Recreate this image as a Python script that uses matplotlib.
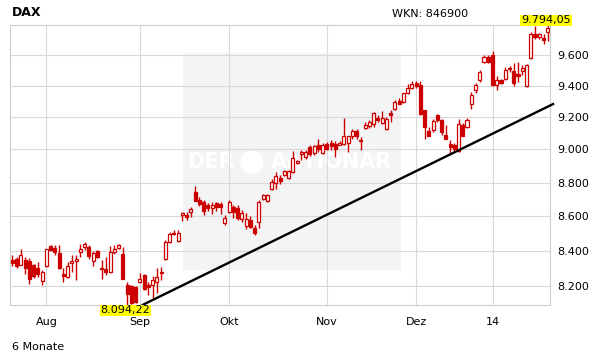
import matplotlib
matplotlib.use('Agg')
import matplotlib.pyplot as plt
from matplotlib.patches import Rectangle, Ellipse
from matplotlib.ticker import FixedLocator, NullLocator

# DAX daily candles, 22.07.2013 - 22.01.2014 (trading days only)
opens = [8346, 8356, 8322, 8350, 8340, 8322, 8303, 8230, 8314, 8426,
         8416, 8385, 8270, 8252, 8331, 8340, 8393, 8422, 8422, 8342,
         8399, 8303, 8295, 8281, 8393, 8419, 8380, 8206, 8200, 8195,
         8224, 8262, 8206, 8206, 8224, 8281, 8351, 8451, 8504, 8455,
         8606, 8606, 8625, 8741, 8698, 8684, 8665, 8650, 8677, 8670,
         8560, 8627, 8652, 8646, 8583, 8543, 8577, 8533, 8566, 8704,
         8690, 8764, 8795, 8825, 8843, 8830, 8862, 8917, 8971, 8952,
         9016, 8977, 9030, 8981, 9034, 9040, 9034, 9030, 9036, 9040,
         9083, 9114, 9060, 9134, 9143, 9155, 9197, 9164, 9128, 9226,
         9250, 9302, 9296, 9355, 9387, 9416, 9402, 9246, 9113, 9118,
         9212, 9180, 9091, 9034, 9026, 8990, 9149, 9140, 9280, 9370,
         9434, 9553, 9585, 9596, 9405, 9434, 9445, 9505, 9493, 9477,
         9493, 9395, 9580, 9738, 9716, 9711, 9749]
highs = [8377, 8367, 8413, 8367, 8361, 8325, 8336, 8290, 8410, 8436,
         8436, 8436, 8300, 8336, 8377, 8377, 8442, 8451, 8432, 8399,
         8403, 8346, 8367, 8426, 8432, 8442, 8422, 8224, 8205, 8200,
         8272, 8267, 8222, 8256, 8300, 8306, 8461, 8506, 8518, 8518,
         8625, 8625, 8655, 8780, 8714, 8698, 8680, 8686, 8684, 8686,
         8606, 8694, 8665, 8665, 8635, 8618, 8600, 8551, 8694, 8733,
         8734, 8819, 8862, 8845, 8873, 8878, 8991, 8935, 8995, 8995,
         9026, 9030, 9067, 9040, 9045, 9056, 9050, 9050, 9194, 9085,
         9128, 9128, 9077, 9170, 9180, 9232, 9212, 9239, 9200, 9243,
         9306, 9320, 9355, 9408, 9429, 9429, 9427, 9246, 9140, 9186,
         9222, 9191, 9149, 9056, 9040, 9191, 9164, 9194, 9360, 9419,
         9498, 9596, 9596, 9622, 9462, 9440, 9519, 9525, 9546, 9552,
         9530, 9540, 9749, 9790, 9745, 9738, 9794.05]
lows = [8313, 8300, 8318, 8266, 8215, 8248, 8252, 8206, 8310, 8398,
        8375, 8295, 8224, 8246, 8281, 8234, 8367, 8403, 8356, 8313,
        8361, 8238, 8262, 8275, 8380, 8413, 8238, 8094.22, 8100, 8105,
        8218, 8178, 8150, 8133, 8161, 8234, 8346, 8445, 8489, 8451,
        8572, 8580, 8593, 8690, 8660, 8606, 8630, 8615, 8631, 8615,
        8547, 8622, 8587, 8577, 8566, 8528, 8530, 8489, 8533, 8694,
        8684, 8753, 8763, 8793, 8837, 8824, 8858, 8912, 8935, 8942,
        8960, 8965, 8985, 8971, 8995, 8995, 8954, 9025, 9026, 8985,
        9067, 9067, 8995, 9128, 9130, 9139, 9170, 9160, 9118, 9170,
        9243, 9280, 9290, 9344, 9376, 9385, 9212, 9067, 9080, 9110,
        9170, 9087, 9062, 8971, 8985, 8985, 9080, 9130, 9254, 9350,
        9423, 9543, 9545, 9398, 9370, 9410, 9434, 9490, 9396, 9423,
        9470, 9392, 9575, 9700, 9700, 9667, 9688]
closes = [8329, 8313, 8379, 8300, 8243, 8258, 8266, 8277, 8408, 8403,
          8393, 8300, 8258, 8314, 8340, 8356, 8413, 8438, 8369, 8388,
          8367, 8295, 8281, 8393, 8413, 8432, 8243, 8159, 8105, 8110,
          8243, 8183, 8195, 8234, 8252, 8273, 8451, 8495, 8495, 8504,
          8618, 8596, 8640, 8690, 8675, 8631, 8650, 8665, 8652, 8652,
          8592, 8684, 8625, 8592, 8621, 8583, 8537, 8504, 8684, 8724,
          8724, 8805, 8839, 8810, 8867, 8867, 8950, 8930, 8985, 8985,
          8971, 9020, 9004, 9030, 9004, 9020, 9004, 9040, 9080, 9081,
          9114, 9083, 9050, 9149, 9170, 9226, 9185, 9197, 9191, 9212,
          9296, 9283, 9350, 9387, 9408, 9395, 9219, 9140, 9086, 9174,
          9182, 9106, 9067, 9014, 9006, 9160, 9086, 9180, 9338, 9406,
          9487, 9585, 9553, 9402, 9434, 9417, 9502, 9515, 9417, 9461,
          9514, 9530, 9738, 9716, 9733, 9698, 9775]

month_ticks = [8, 30, 51, 74, 95, 113]   # first trading day of each month
month_labels = ['Aug', 'Sep', 'Okt', 'Nov', 'Dez', '14']
price_ticks = [8200, 8400, 8600, 8800, 9000, 9200, 9400, 9600]

# support line drawn on the chart (trading-day index, price)
trend_x = [30.45, 127.5]
trend_y = [8094.22, 9286]

RED = '#cc0000'
GRID = '#d9d9d9'

fig = plt.figure(figsize=(6.11, 3.64), dpi=100)
ax = fig.add_axes([10.3 / 611, 1 - 305.3 / 364, 540 / 611, 280 / 364])
ax.set_yscale('log')

idx = list(range(len(opens)))
ax.vlines(idx, lows, highs, color=RED, lw=1.0, zorder=3)
for i, o, c in zip(idx, opens, closes):
    lo, hi = min(o, c), max(o, c)
    if hi - lo < 3:
        hi = lo + 3
    face = 'white' if c > o else RED
    ax.bar(i, hi - lo, bottom=lo, width=0.72, color=face, edgecolor=RED,
           linewidth=0.9, zorder=4)

ax.plot(trend_x, trend_y, color='black', lw=1.7, clip_on=False, zorder=6,
        solid_capstyle='butt')

lo_i = lows.index(min(lows))
hi_i = highs.index(max(highs))
ax.text(lo_i - 0.4, min(lows), '8.094,22', ha='center', va='top', fontsize=8,
        bbox=dict(facecolor='#ffff00', edgecolor='none', pad=0.6), zorder=7,
        clip_on=False)
ax.text(hi_i - 0.4, max(highs), '9.794,05', ha='center', va='bottom', fontsize=8,
        bbox=dict(facecolor='#ffff00', edgecolor='none', pad=0.6), zorder=7,
        clip_on=False)

ax.set_xlim(-0.5, 126.6)
ax.set_ylim(min(lows), max(highs))

ax.xaxis.set_major_locator(FixedLocator(month_ticks))
ax.set_xticklabels(month_labels)
ax.yaxis.set_major_locator(FixedLocator(price_ticks))
ax.yaxis.set_minor_locator(NullLocator())
ax.set_yticklabels(['{:,}'.format(p).replace(',', '.') for p in price_ticks])
ax.yaxis.tick_right()
ax.tick_params(axis='both', length=0, labelsize=8, colors='black')
ax.tick_params(axis='y', pad=5)
ax.tick_params(axis='x', pad=8.5)
ax.grid(True, color=GRID, lw=0.8, zorder=1)
ax.set_axisbelow(True)
for s in ax.spines.values():
    s.set_color('#cccccc')
    s.set_linewidth(0.8)

# watermark
ax.add_patch(Rectangle((0.3198, 0.125), 0.4037, 0.775, transform=ax.transAxes,
                       facecolor='#f4f4f4', edgecolor='none', zorder=0))
ax.text(0.3717, 0.51, 'DER', transform=ax.transAxes, ha='center', va='center',
        fontsize=15, fontweight='bold', color='white', zorder=0.5)
ax.add_patch(Ellipse((0.447, 0.51), 23 / 540, 23 / 280, transform=ax.transAxes,
                     facecolor='white', edgecolor='none', zorder=0.5))
ax.text(0.594, 0.51, 'AKTIONÄR', transform=ax.transAxes, ha='center', va='center',
        fontsize=15, fontweight='bold', color='white', zorder=0.5)

fig.text(12 / 611, 1 - 12 / 364, 'DAX', fontweight='bold', fontsize=9, va='center')
fig.text(392 / 611, 1 - 14 / 364, 'WKN: 846900', fontsize=8, va='center')
fig.text(12 / 611, 1 - 347 / 364, '6 Monate', fontsize=8, va='center')

fig.savefig('out.png', dpi=100)
